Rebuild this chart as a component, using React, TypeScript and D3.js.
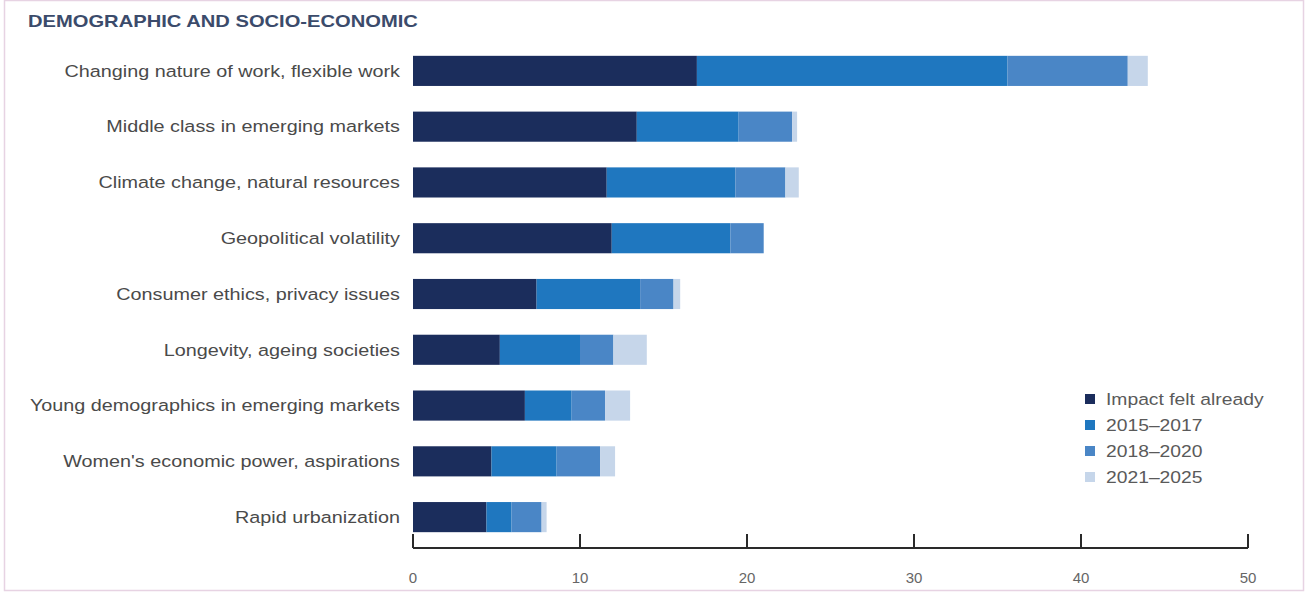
import React from "react";
import * as d3 from "d3";

const categories = [
  "Changing nature of work, flexible work",
  "Middle class in emerging markets",
  "Climate change, natural resources",
  "Geopolitical volatility",
  "Consumer ethics, privacy issues",
  "Longevity, ageing societies",
  "Young demographics in emerging markets",
  "Women's economic power, aspirations",
  "Rapid urbanization",
];
const seriesNames = ["Impact felt already", "2015–2017", "2018–2020", "2021–2025"];
const impactFelt = [17.0, 13.4, 11.6, 11.9, 7.4, 5.2, 6.7, 4.7, 4.4];
const y2015 = [18.6, 6.1, 7.7, 7.1, 6.2, 4.8, 2.8, 3.9, 1.5];
const y2018 = [7.2, 3.2, 3.0, 2.0, 2.0, 2.0, 2.0, 2.6, 1.8];
const y2021 = [1.2, 0.3, 0.8, 0.0, 0.4, 2.0, 1.5, 0.9, 0.3];
const ticks = [0, 10, 20, 30, 40, 50];
const colors = ["#1b2d5c", "#1f77bf", "#4a86c6", "#c6d6ea"];

export default function App() {
  const W = 1305, H = 592;
  const x = d3.scaleLinear().domain([0, 50]).range([413, 1248]);
  const y = d3.scaleBand<string>().domain(categories).range([43, 545]).paddingInner(0.46).paddingOuter(0.23);
  const rows = categories.map((c, i) => ({ c, v: [impactFelt[i], y2015[i], y2018[i], y2021[i]] }));
  const stack = d3.stack<any>().keys(["0", "1", "2", "3"]).value((d: any, k: string) => d.v[+k]);
  const stacked = stack(rows as any);
  const font = "Liberation Sans, Arial, Helvetica, sans-serif";
  const axisY = 548;
  return (
    <svg width={W} height={H} style={{ position: "absolute", left: 0, top: 0, background: "#fff" }} fontFamily={font}>
      <rect x={4.5} y={0.5} width={W - 6} height={H - 2} fill="none" stroke="#e7d3e3" strokeWidth={1.5} />
      <text transform="translate(28,27) scale(1.26,1)" fontSize={16} fontWeight="bold" fill="#3b4b6b">DEMOGRAPHIC AND SOCIO-ECONOMIC</text>
      {stacked.map((s, si) => (
        <g key={si} fill={colors[si]}>
          {s.map((d, i) => (
            <rect key={i} x={x(d[0])} y={y(categories[i])!} width={Math.max(0, x(d[1]) - x(d[0]))} height={y.bandwidth()} />
          ))}
        </g>
      ))}
      {categories.map((c) => (
        <text key={c} transform={`translate(400,${y(c)! + y.bandwidth() / 2}) scale(1.2,1)`} dy="0.35em" textAnchor="end" fontSize={16.5} fill="#4a4a4a">{c}</text>
      ))}
      <line x1={x(0)} x2={x(50)} y1={axisY} y2={axisY} stroke="#2a2a2a" strokeWidth={2} />
      {ticks.map((t) => (
        <g key={t}>
          <line x1={x(t)} x2={x(t)} y1={axisY} y2={axisY - 14} stroke="#2a2a2a" strokeWidth={2} />
          <text x={x(t)} y={583} textAnchor="middle" fontSize={15} fill="#666">{t}</text>
        </g>
      ))}
      {seriesNames.map((n, i) => (
        <g key={n} transform={`translate(1085, ${399 + i * 26})`}>
          <rect x={0} y={-5} width={10} height={10} fill={colors[i]} />
          <text transform="translate(21,0) scale(1.17,1)" dy="0.35em" fontSize={16.5} fill="#5a5a5a">{n}</text>
        </g>
      ))}
    </svg>
  );
}
